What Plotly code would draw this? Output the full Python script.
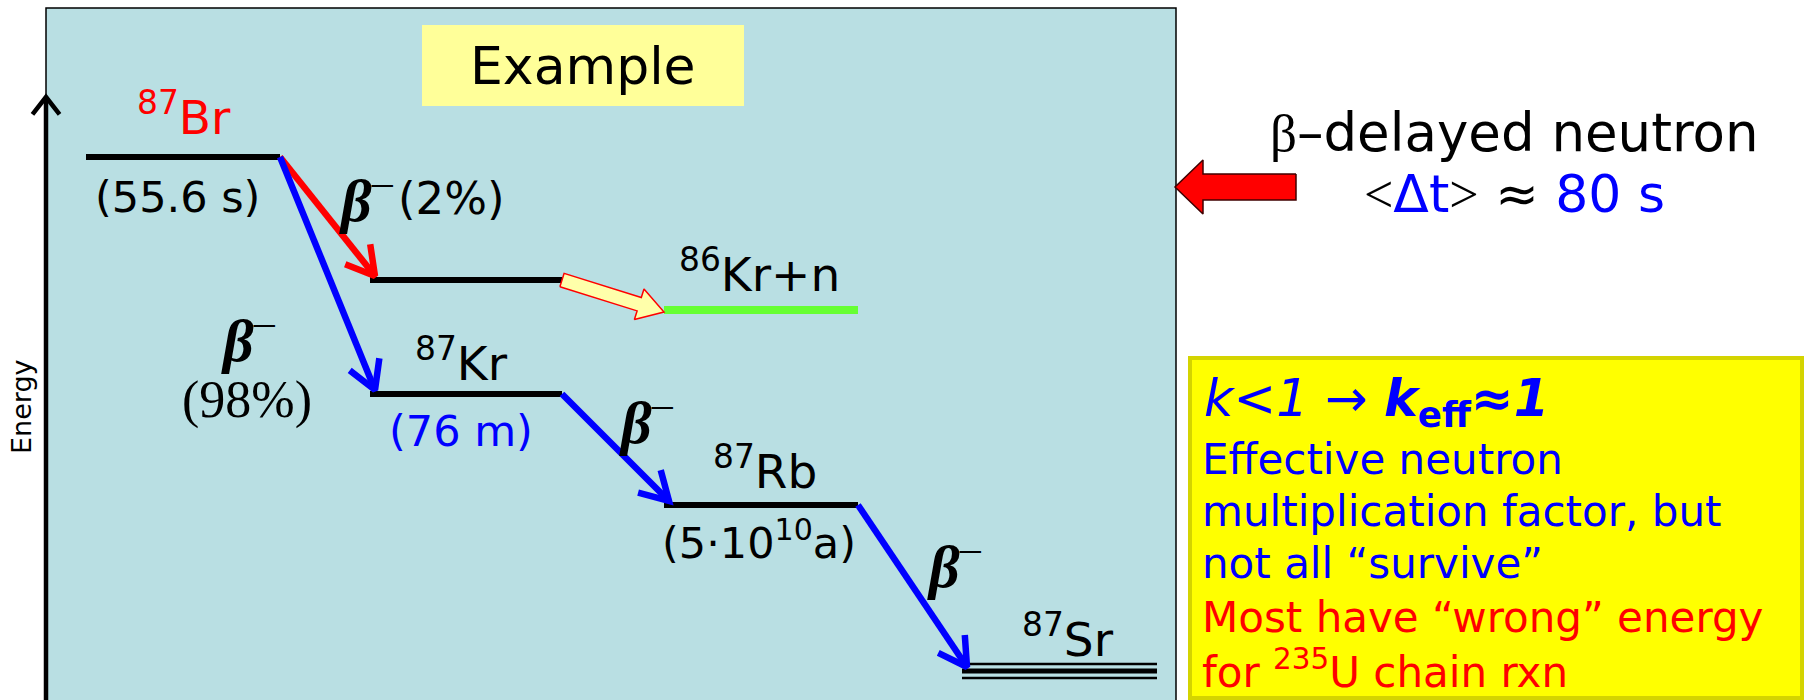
import math
import plotly.graph_objects as go

# energy levels of the decay scheme (x extent and energy position on the diagram)
level_names = ["87Br", "86Kr*", "86Kr+n", "87Kr", "87Rb", "87Sr"]
level_x0 = [86, 370, 664, 370, 664, 962]
level_x1 = [280, 562, 858, 562, 858, 1157]
level_e = [157, 280, 310, 394, 505, 671]

# decays: parent level -> daughter level, colour
decay_from = ["87Br", "87Br", "87Kr", "87Rb"]
decay_to = ["86Kr*", "87Kr", "87Rb", "87Sr"]
decay_color = ["#FF0000", "#0000FF", "#0000FF", "#0000FF"]

box_lines = [
    "Effective neutron",
    "multiplication factor, but",
    "not all \u201csurvive\u201d",
]
box_lines_red = [
    "Most have \u201cwrong\u201d energy",
    "for <sup>235</sup>U chain rxn",
]

FONT = "DejaVu Sans"
SERIF = "Liberation Serif"
BLUE = "#0000FF"
RED = "#FF0000"

lv = {n: (a, b, e) for n, a, b, e in zip(level_names, level_x0, level_x1, level_e)}


def block_arrow(x0, y0, x1, y1, shaft, head, headlen):
    '''
    Polygon for a block arrow going from (x0, y0) to (x1, y1).
    '''
    dx, dy = x1 - x0, y1 - y0
    L = math.hypot(dx, dy)
    ux, uy = dx / L, dy / L
    px, py = -uy, ux
    bx, by = x1 - ux * headlen, y1 - uy * headlen
    pts = [
        (x0 + px * shaft, y0 + py * shaft),
        (bx + px * shaft, by + py * shaft),
        (bx + px * head, by + py * head),
        (x1, y1),
        (bx - px * head, by - py * head),
        (bx - px * shaft, by - py * shaft),
        (x0 - px * shaft, y0 - py * shaft),
        (x0 + px * shaft, y0 + py * shaft),
    ]
    return [p[0] for p in pts], [p[1] for p in pts]


def line_arrow(x0, y0, x1, y1, arm, angle):
    '''
    Shaft plus an open V head, as x/y lists for one line trace.
    '''
    dx, dy = x1 - x0, y1 - y0
    L = math.hypot(dx, dy)
    rx, ry = -dx / L, -dy / L
    xs, ys = [x0, x1, None], [y0, y1, None]
    for s in (1, -1):
        a = math.radians(angle) * s
        ex = x1 + arm * (rx * math.cos(a) - ry * math.sin(a))
        ey = y1 + arm * (rx * math.sin(a) + ry * math.cos(a))
        if s == 1:
            xs += [ex, x1]
            ys += [ey, y1]
        else:
            xs += [ex]
            ys += [ey]
    return xs, ys


fig = go.Figure()

# black levels
xs, ys = [], []
for n in ["87Br", "86Kr*", "87Kr", "87Rb"]:
    a, b, e = lv[n]
    xs += [a, b, None]
    ys += [e, e, None]
fig.add_trace(go.Scatter(x=xs, y=ys, mode="lines", line=dict(color="black", width=6)))

# final state 86Kr + n
a, b, e = lv["86Kr+n"]
fig.add_trace(go.Scatter(x=[a, b], y=[e, e], mode="lines", line=dict(color="#66FF33", width=8)))

# stable 87Sr, triple line (thicker in the middle)
a, b, e = lv["87Sr"]
fig.add_trace(go.Scatter(x=[a, b, None, a, b], y=[e - 7, e - 7, None, e + 7, e + 7], mode="lines",
                         line=dict(color="black", width=2.5)))
fig.add_trace(go.Scatter(x=[a, b], y=[e, e], mode="lines", line=dict(color="black", width=5)))

# decay arrows
for f, t, c in zip(decay_from, decay_to, decay_color):
    fa, fb, fe = lv[f]
    ta, tb, te = lv[t]
    ax_, ay_ = line_arrow(fb, fe, ta + 5, te - 4, 32, 30)
    fig.add_trace(go.Scatter(x=ax_, y=ay_, mode="lines", line=dict(color=c, width=6.5)))

# energy axis
ax_, ay_ = line_arrow(46, 705, 46, 97, 22, 38)
fig.add_trace(go.Scatter(x=ax_, y=ay_, mode="lines", line=dict(color="black", width=4.5)))

# yellow neutron-emission arrow
a0, b0, e0 = lv["86Kr*"]
a1, b1, e1 = lv["86Kr+n"]
px_, py_ = block_arrow(b0, e0, a1, e1 + 2, 7, 16, 26)
fig.add_trace(go.Scatter(x=px_, y=py_, mode="lines", fill="toself", fillcolor="#FFFFAA",
                         line=dict(color=RED, width=1.5)))

# red arrow pointing to the box
px_, py_ = block_arrow(1296, 187, 1175, 187, 13, 27, 28)
fig.add_trace(go.Scatter(x=px_, y=py_, mode="lines", fill="toself", fillcolor=RED,
                         line=dict(color="#400000", width=1.5)))

fig.update_traces(hoverinfo="skip", showlegend=False)

BETA = "<b><i>\u03b2</i></b><sup>\u2013</sup>"


def label(x, y, text, size, color="black", family=FONT, xanchor="center", **kw):
    fig.add_annotation(x=x, y=y, text=text, showarrow=False, xanchor=xanchor, yanchor="middle",
                       font=dict(family=family, size=size, color=color), **kw)


label(583, 66, "Example", 52)
label(21, 407, "Energy", 27, textangle=-90)

label(184, 114, "<sup>87</sup>Br", 47, RED)
label(177, 197, "(55.6 s)", 43)
label(366, 196, BETA, 60, family=SERIF)
label(451, 198, "(2%)", 45)
label(248, 336, BETA, 60, family=SERIF)
label(247, 400, "(98%)", 52, family=SERIF)
label(461, 360, "<sup>87</sup>Kr", 47)
label(461, 431, "(76 m)", 43, BLUE)
label(646, 418, BETA, 60, family=SERIF)
label(759, 271, "<sup>86</sup>Kr+n", 47)
label(765, 468, "<sup>87</sup>Rb", 47)
label(759, 540, "(5\u00b710<sup>10</sup>a)", 43)
label(954, 562, BETA, 60, family=SERIF)
label(1068, 636, "<sup>87</sup>Sr", 47)

label(1514, 132, f"<span style='font-family:{SERIF}'>\u03b2</span>\u2013delayed neutron", 53)
label(1514, 194,
      f"<span style='font-family:{SERIF}'>&lt;</span><span style='color:{BLUE}'>\u0394t</span>"
      f"<span style='font-family:{SERIF}'>&gt;</span> \u2248 <span style='color:{BLUE}'>80 s</span>", 52)

# text in the yellow box
label(1202, 402, "<i>k&lt;1 \u2192 </i><b><i>k</i><sub>eff</sub><i>\u22481</i></b>", 51, BLUE,
      xanchor="left")
for i, t in enumerate(box_lines):
    label(1200, 459 + 52 * i, t, 42, BLUE, xanchor="left")
for i, t in enumerate(box_lines_red):
    label(1200, 617 + 52 * i, t, 42, RED, xanchor="left")

fig.update_layout(
    width=1804, height=700,
    margin=dict(l=0, r=0, t=0, b=0),
    paper_bgcolor="white", plot_bgcolor="white",
    xaxis=dict(range=[0, 1804], visible=False, fixedrange=True),
    yaxis=dict(range=[700, 0], visible=False, fixedrange=True),
    shapes=[
        dict(type="rect", x0=46, y0=8, x1=1176, y1=704, fillcolor="#B9DFE3",
             line=dict(color="black", width=1.5), layer="below"),
        dict(type="rect", x0=422, y0=25, x1=744, y1=106, fillcolor="#FFFF99",
             line=dict(width=0), layer="below"),
        dict(type="rect", x0=1190, y0=358, x1=1802, y1=698, fillcolor="#FFFF00",
             line=dict(color="#D4D400", width=4), layer="below"),
    ],
)

fig.write_html("out.html", config={"displayModeBar": False},
               post_script="document.body.style.margin='0px';")
